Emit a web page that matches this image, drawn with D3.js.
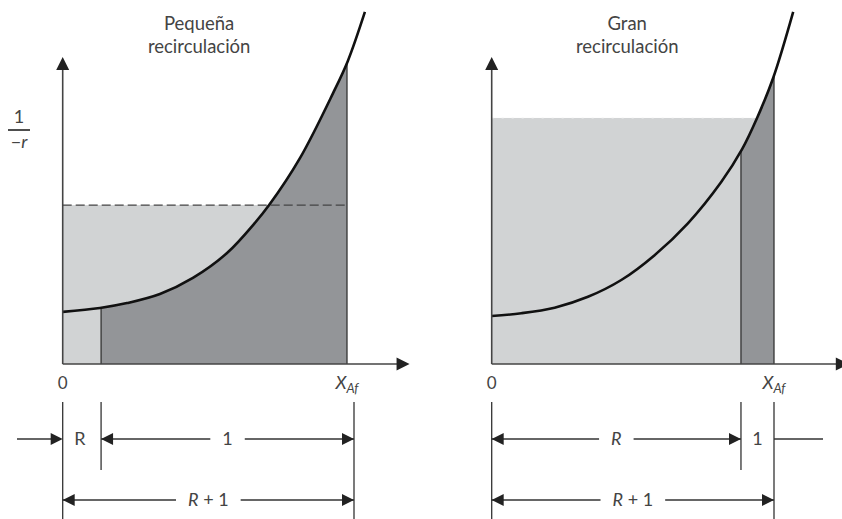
<!DOCTYPE html>
<html>
<head>
<meta charset="utf-8">
<script src="https://cdn.jsdelivr.net/npm/d3@7"></script>
<style>
  body { margin: 0; background: #fff; }
  svg { display: block; font-family: Lato, "Open Sans", sans-serif; }
  text { fill: #444; }
</style>
</head>
<body>
<script>
// panel titles
const titles = [["Pequeña", "recirculación"], ["Gran", "recirculación"]];

// 1/-r curve (x as fraction of X_Af)
const smallX = [0, 0.131, 0.226, 0.342, 0.458, 0.578, 0.676, 0.726, 0.835, 0.951, 1.003, 1.063];
const smallY = [14.9, 16.0, 17.4, 20.0, 24.6, 31.7, 40.3, 45.4, 58.9, 77.4, 86.6, 100.6];
const largeX = [0, 0.105, 0.223, 0.341, 0.459, 0.577, 0.695, 0.813, 0.887, 0.94, 0.997, 1.068];
const largeY = [13.7, 14.5, 16.1, 19.2, 24.0, 31.1, 40.2, 52.0, 61.4, 70.3, 81.7, 100.6];

// feed point (R/(R+1)) and height of the recycle-reactor rectangle
const recycleAt = [0.135, 0.883];
const rectLevel = [45.4, 70.3];
const xAf = 1;

const w = 842, h = 519;
const axisY = 364;
const light = "#d1d3d4", dark = "#939598";

const svg = d3.select("body").append("svg")
    .attr("width", w)
    .attr("height", h);

const yScale = d3.scaleLinear().domain([0, 100]).range([axisY, 14]);

const panels = [
    { xs: smallX, ys: smallY, range: [62.7, 347], xEnd: 1.22, dimShift: 7, dashed: true },
    { xs: largeX, ys: largeY, range: [491.7, 774], xEnd: 1.265, dimShift: 0, dashed: false }
];

function arrowHead(g, x, y, dir, len, half) {
    // dir: "r", "l", "u"
    let pts;
    if (dir === "r") pts = [[x, y], [x - len, y - half], [x - len, y + half]];
    else if (dir === "l") pts = [[x, y], [x + len, y - half], [x + len, y + half]];
    else pts = [[x, y], [x - half, y + len], [x + half, y + len]];
    g.append("polygon")
        .attr("points", pts.map(p => p.join(",")).join(" "))
        .attr("fill", "#222");
}

panels.forEach(function (p, i) {
    const xScale = d3.scaleLinear().domain([0, xAf]).range(p.range);
    const g = svg.append("g");
    const pts = p.xs.map((x, k) => [x, p.ys[k]]);
    const x0 = xScale(0), x1 = xScale(xAf), xR = xScale(recycleAt[i]);
    const smooth = d3.curveCatmullRom.alpha(0.5);

    // light rectangle (recycle reactor)
    g.append("rect")
        .attr("x", x0)
        .attr("y", yScale(rectLevel[i]))
        .attr("width", x1 - x0)
        .attr("height", axisY - yScale(rectLevel[i]))
        .attr("fill", light);

    // clip under the curve
    const area = d3.area()
        .x(d => xScale(d[0]))
        .y0(axisY)
        .y1(d => yScale(d[1]))
        .curve(smooth);
    svg.append("clipPath")
        .attr("id", "under" + i)
        .append("path")
        .attr("d", area(pts));

    const under = g.append("g").attr("clip-path", "url(#under" + i + ")");
    under.append("rect")
        .attr("x", xR)
        .attr("y", 0)
        .attr("width", x1 - xR)
        .attr("height", axisY)
        .attr("fill", dark);
    [xR, x1].forEach(function (x) {
        under.append("line")
            .attr("x1", x).attr("x2", x)
            .attr("y1", 0).attr("y2", axisY)
            .attr("stroke", "#333")
            .attr("stroke-width", 1.3);
    });

    // top edge of the rectangle
    g.append("line")
        .attr("x1", x0).attr("x2", i === 0 ? x1 : xScale(0.94))
        .attr("y1", yScale(rectLevel[i])).attr("y2", yScale(rectLevel[i]))
        .attr("stroke", p.dashed ? "#444" : "#f2f2f2")
        .attr("stroke-width", p.dashed ? 1.3 : 1)
        .attr("stroke-dasharray", p.dashed ? "9,4" : "2,8");

    // curve
    g.append("path")
        .attr("d", d3.line()
            .x(d => xScale(d[0]))
            .y(d => yScale(d[1]))
            .curve(smooth)(pts))
        .attr("fill", "none")
        .attr("stroke", "#111")
        .attr("stroke-width", 2.6);

    // axes
    const yTip = 57;
    g.append("line")
        .attr("x1", x0).attr("x2", x0)
        .attr("y1", axisY).attr("y2", yTip + 10)
        .attr("stroke", "#444").attr("stroke-width", 1.6);
    arrowHead(g, x0, yTip, "u", 13, 6.5);
    const xTip = xScale(p.xEnd);
    g.append("line")
        .attr("x1", x0).attr("x2", xTip - 10)
        .attr("y1", axisY).attr("y2", axisY)
        .attr("stroke", "#444").attr("stroke-width", 1.6);
    arrowHead(g, xTip, axisY, "r", 13, 6.5);

    // title
    const tx = xScale(0.48);
    titles[i].forEach(function (t, k) {
        g.append("text")
            .attr("x", tx)
            .attr("y", 30 + k * 23)
            .attr("text-anchor", "middle")
            .attr("font-size", 18.5)
            .text(t);
    });

    // axis labels
    g.append("text")
        .attr("x", x0).attr("y", 389)
        .attr("text-anchor", "middle")
        .attr("font-size", 17)
        .text("0");
    const xl = g.append("text")
        .attr("x", x1).attr("y", 389)
        .attr("text-anchor", "middle")
        .attr("font-size", 18)
        .attr("font-style", "italic");
    xl.append("tspan").text("X");
    xl.append("tspan").attr("font-size", 13).attr("dy", 4).text("Af");

    // dimension lines below
    const dx1 = x1 + p.dimShift;
    const row1 = 439, row2 = 500, tickTop = 402;
    [[x0, h], [xR, 470], [dx1, h]].forEach(function (t) {
        g.append("line")
            .attr("x1", t[0]).attr("x2", t[0])
            .attr("y1", tickTop).attr("y2", t[1])
            .attr("stroke", "#333").attr("stroke-width", 1.3);
    });

    function dim(xa, xb, y, label, arrowA, arrowB) {
        const cx = (xa + xb) / 2;
        const t = g.append("text")
            .attr("x", cx)
            .attr("y", y + 6)
            .attr("text-anchor", "middle")
            .attr("font-size", 18);
        label.forEach(function (part) {
            t.append("tspan")
                .attr("font-style", part.it ? "italic" : "normal")
                .text(part.s);
        });
        const half = t.node().getComputedTextLength() / 2 + 12;
        [[xa, cx - half], [cx + half, xb]].forEach(function (s) {
            g.append("line")
                .attr("x1", s[0]).attr("x2", s[1])
                .attr("y1", y).attr("y2", y)
                .attr("stroke", "#333").attr("stroke-width", 1.3);
        });
        if (arrowA) arrowHead(g, xa, y, "l", 12, 6);
        if (arrowB) arrowHead(g, xb, y, "r", 12, 6);
    }

    if (i === 0) {
        g.append("line")
            .attr("x1", 17).attr("x2", x0 - 6)
            .attr("y1", row1).attr("y2", row1)
            .attr("stroke", "#333").attr("stroke-width", 1.3);
        arrowHead(g, x0, row1, "r", 12, 6);
        g.append("text")
            .attr("x", (x0 + xR) / 2 - 2).attr("y", row1 + 6)
            .attr("text-anchor", "middle")
            .attr("font-size", 18)
            .text("R");
        dim(xR, dx1, row1, [{ s: "1" }], true, true);
    } else {
        dim(x0, xR, row1, [{ s: "R", it: true }], true, true);
        g.append("text")
            .attr("x", (xR + dx1) / 2).attr("y", row1 + 6)
            .attr("text-anchor", "middle")
            .attr("font-size", 18)
            .text("1");
        g.append("line")
            .attr("x1", dx1).attr("x2", 823)
            .attr("y1", row1).attr("y2", row1)
            .attr("stroke", "#333").attr("stroke-width", 1.3);
    }
    dim(x0, dx1, row2, [{ s: "R", it: true }, { s: " + 1" }], true, true);
});

// y-axis label 1/(-r)
svg.append("text")
    .attr("x", 19).attr("y", 123)
    .attr("text-anchor", "middle")
    .attr("font-size", 18)
    .text("1");
svg.append("line")
    .attr("x1", 8).attr("x2", 30)
    .attr("y1", 130).attr("y2", 130)
    .attr("stroke", "#222").attr("stroke-width", 1.6);
const neg = svg.append("text")
    .attr("x", 19).attr("y", 148)
    .attr("text-anchor", "middle")
    .attr("font-size", 18);
neg.append("tspan").text("\u2212");
neg.append("tspan").attr("font-style", "italic").text("r");
</script>
</body>
</html>
